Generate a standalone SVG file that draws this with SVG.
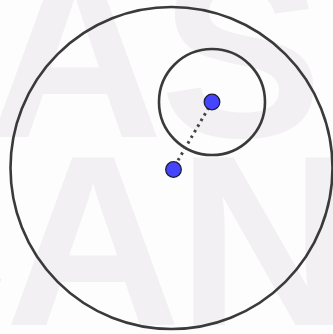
<svg xmlns="http://www.w3.org/2000/svg" width="333" height="334" viewBox="0 0 333 334">
  <style>
    .wm { font-family: "Liberation Sans", Arial, sans-serif; font-weight: bold; font-size: 244px; fill: #f2f0f2; }
    .ring { fill: none; stroke: #3a3a3a; stroke-width: 2.6; }
    .pt { fill: #4545ff; stroke: #1e1e3c; stroke-width: 1.3; }
    .seg { stroke: #444444; stroke-width: 3; stroke-dasharray: 2.5 4; fill: none; }
  </style>
  <rect width="333" height="334" fill="#fdfdfd"/>
  <g id="watermark">
    <text class="wm" y="137"><tspan x="-13">A</tspan><tspan x="160">S</tspan></text>
    <text class="wm" y="325"><tspan x="-168">C</tspan><tspan x="5">A</tspan><tspan x="177">N</tspan></text>
  </g>
  <g id="outer-circle">
    <circle class="ring" cx="171.5" cy="168" r="161"/>
  </g>
  <g id="inner-circle">
    <circle class="ring" cx="212" cy="102" r="53"/>
  </g>
  <g id="connectors">
    <line class="seg" x1="212" y1="102" x2="173" y2="169"/>
  </g>
  <g id="point-center">
    <circle class="pt" cx="212" cy="102" r="7.8"/>
  </g>
  <g id="point-outer">
    <circle class="pt" cx="173.5" cy="169.5" r="7.8"/>
  </g>
</svg>
